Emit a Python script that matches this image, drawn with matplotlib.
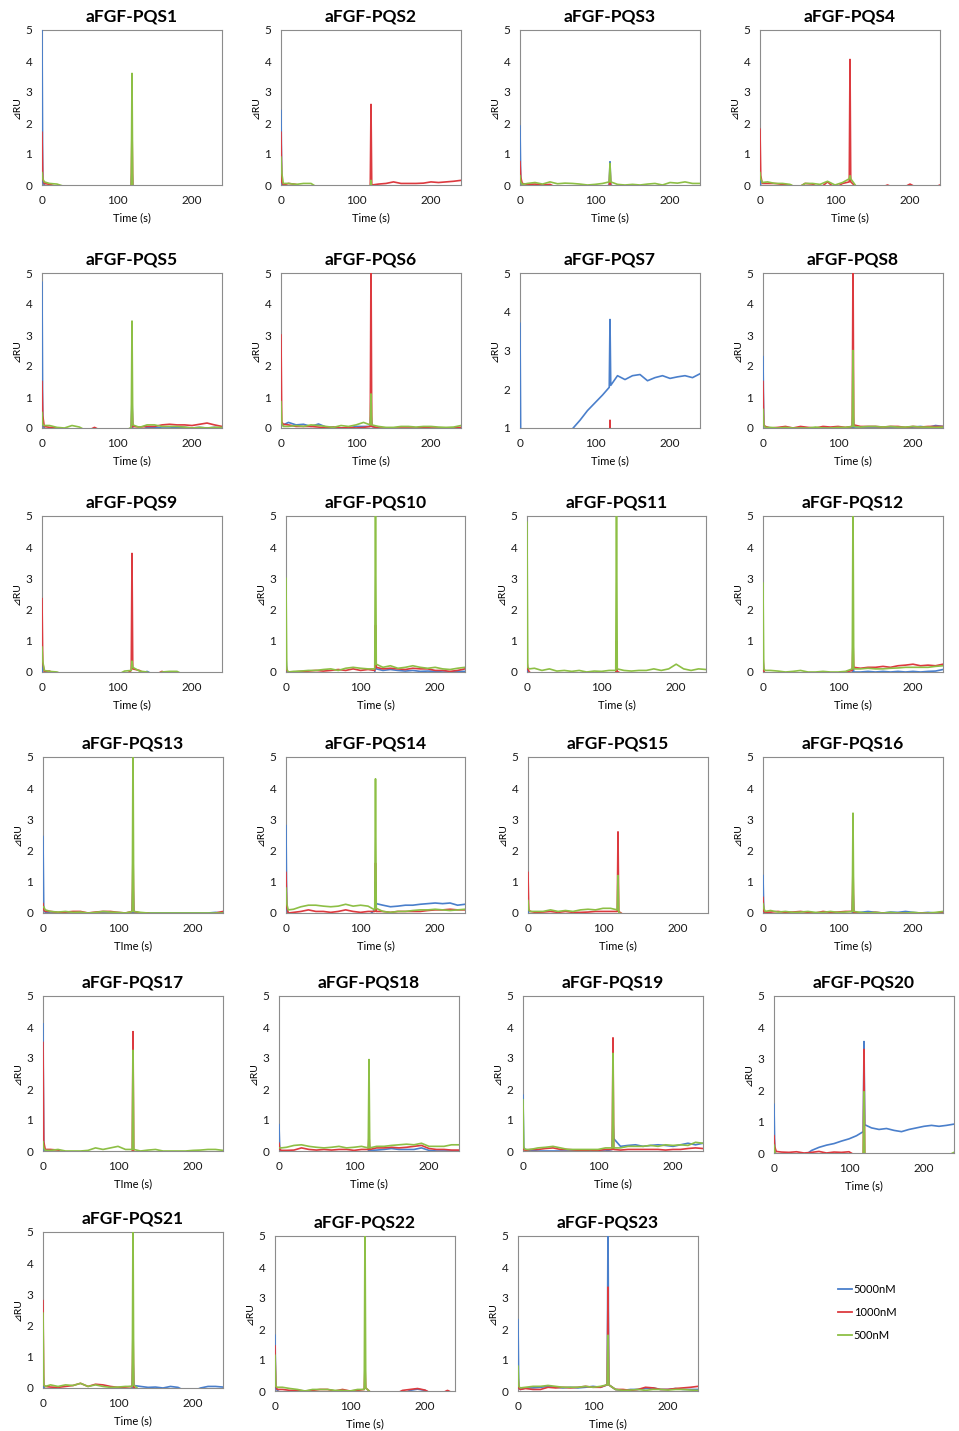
import matplotlib
matplotlib.use("Agg")
import matplotlib.pyplot as plt

# sample times (s) shared by every sensorgram
TIME = [0, 1, 3, 10, 20, 30, 40, 50, 60, 70, 80, 90, 100, 110, 119, 120, 121,
        130, 140, 150, 160, 170, 180, 190, 200, 210, 220, 230, 240]

CONCENTRATIONS = ["5000nM", "1000nM", "500nM"]

TITLES = ["aFGF-PQS%d" % i for i in range(1, 24)]
XLABELS = ["Time (s)"] * 12 + ["TIme (s)"] + ["Time (s)"] * 3 + ["TIme (s)"] + ["Time (s)"] * 6
YMIN = [0] * 6 + [1] + [0] * 16

# response (dRU) per panel: 5000 nM, 1000 nM, 500 nM
PQS1 = ([5.0, 0.1, 0.0, -0.1, -0.1, -0.1, -0.1, -0.1, -0.1, -0.1, -0.1, -0.1, -0.1, -0.1, -0.1, 0.5, -0.1, -0.1, -0.1, -0.1, -0.1, -0.1, -0.1, -0.1, -0.1, -0.1, -0.1, -0.1, -0.1],
        [1.7, 0.2, 0.05, 0.02, -0.05, -0.1, -0.1, -0.1, -0.1, -0.1, -0.1, -0.1, -0.1, -0.1, -0.1, 1.9, -0.1, -0.1, -0.1, -0.1, -0.1, -0.1, -0.1, -0.1, -0.1, -0.1, -0.1, -0.1, -0.1],
        [0.4, 0.2, 0.1, 0.05, 0.03, -0.05, -0.1, -0.1, -0.1, -0.1, -0.1, -0.1, -0.1, -0.1, -0.1, 3.6, -0.1, -0.1, -0.1, -0.1, -0.1, -0.1, -0.1, -0.1, -0.1, -0.1, -0.1, -0.1, -0.1])
PQS2 = ([2.4, 0.1, -0.1, -0.1, -0.1, -0.1, -0.1, -0.1, -0.1, -0.1, -0.1, -0.1, -0.1, -0.1, -0.1, -0.1, -0.1, -0.1, -0.1, -0.1, -0.1, -0.1, -0.1, -0.1, -0.1, -0.1, -0.1, -0.1, -0.1],
        [1.7, 0.1, 0.0, 0.05, 0.02, -0.1, -0.1, -0.1, -0.1, -0.1, -0.1, -0.1, -0.1, -0.1, -0.1, 2.6, 0.0, 0.03, 0.05, 0.1, 0.05, 0.05, 0.05, 0.06, 0.1, 0.08, 0.1, 0.12, 0.15],
        [0.9, 0.4, 0.05, 0.05, 0.02, 0.05, 0.05, -0.1, -0.1, -0.1, -0.1, -0.1, -0.1, -0.1, -0.1, 0.15, -0.1, -0.1, -0.1, -0.1, -0.1, -0.1, -0.1, -0.1, -0.1, -0.1, -0.1, -0.1, -0.1])
PQS3 = ([1.9, 0.1, 0.0, -0.1, -0.1, -0.1, -0.1, -0.1, -0.1, -0.1, -0.1, -0.1, -0.1, -0.1, 0.0, 0.75, 0.0, -0.1, -0.1, -0.1, -0.1, -0.1, -0.1, -0.1, -0.1, -0.1, -0.1, -0.1, -0.1],
        [0.75, 0.25, 0.05, 0.02, 0.03, 0.0, 0.02, -0.1, -0.1, -0.1, -0.1, -0.1, -0.1, -0.1, -0.1, 0.6, -0.1, -0.1, -0.1, -0.1, -0.1, -0.1, -0.1, -0.1, -0.1, -0.1, -0.1, -0.1, -0.1],
        [0.3, 0.1, 0.02, 0.05, 0.08, 0.03, 0.1, 0.04, 0.06, 0.05, 0.03, 0.0, 0.02, 0.05, 0.1, 0.7, 0.1, 0.02, 0.0, 0.02, 0.0, 0.03, 0.05, 0.0, 0.08, 0.06, 0.1, 0.05, 0.05])
PQS4 = ([0.2, 0.0, -0.1, -0.1, -0.1, -0.1, -0.1, -0.1, -0.1, -0.1, -0.1, -0.1, -0.1, -0.1, -0.1, -0.1, -0.1, -0.1, -0.1, -0.1, -0.1, -0.1, -0.1, -0.1, -0.1, -0.1, -0.1, -0.1, -0.1],
        [1.8, 0.3, 0.05, 0.05, 0.05, 0.02, 0.0, -0.1, 0.05, 0.03, -0.1, 0.1, -0.1, 0.05, 0.1, 4.05, 0.1, -0.1, -0.1, -0.1, -0.1, 0.0, -0.1, -0.1, 0.03, -0.1, -0.1, -0.1, 0.0],
        [0.4, 0.2, 0.08, 0.1, 0.05, 0.05, 0.02, -0.1, 0.05, 0.05, 0.02, 0.12, 0.0, 0.08, 0.2, 0.3, 0.2, -0.1, -0.1, -0.1, -0.1, -0.1, -0.1, -0.1, -0.1, -0.1, -0.1, -0.1, -0.1])
PQS5 = ([4.7, 0.1, 0.0, -0.1, -0.1, -0.1, -0.1, -0.1, -0.1, -0.1, -0.1, -0.1, -0.1, -0.1, -0.1, 1.0, -0.1, -0.1, 0.02, 0.02, 0.0, 0.0, 0.02, 0.02, 0.0, 0.02, 0.0, 0.02, 0.0],
        [1.5, 0.4, 0.05, 0.02, 0.0, -0.1, -0.1, -0.1, -0.1, 0.02, -0.1, -0.1, -0.1, -0.1, -0.1, 0.8, 0.05, 0.03, 0.05, 0.05, 0.1, 0.12, 0.1, 0.1, 0.08, 0.12, 0.16, 0.1, 0.05],
        [0.5, 0.1, 0.08, 0.08, 0.02, 0.0, 0.08, 0.03, -0.1, -0.1, -0.1, -0.1, -0.1, -0.1, 0.02, 3.45, 0.1, 0.02, 0.1, 0.1, 0.05, 0.05, 0.05, 0.03, 0.0, 0.02, 0.0, 0.02, 0.02])
PQS6 = ([0.2, 0.15, 0.1, 0.18, 0.1, 0.12, 0.05, 0.13, 0.03, 0.02, 0.0, 0.0, 0.05, 0.05, 0.05, 0.5, 0.05, 0.0, -0.1, -0.1, -0.1, -0.1, -0.1, -0.1, -0.1, -0.1, -0.1, -0.1, -0.1],
        [3.0, 0.2, 0.12, 0.1, 0.05, 0.05, 0.05, 0.03, 0.0, 0.03, 0.0, 0.02, 0.0, 0.02, 0.05, 5.5, 0.05, 0.0, 0.0, 0.0, 0.0, 0.0, 0.0, 0.02, 0.0, 0.0, 0.0, 0.0, 0.02],
        [0.85, 0.15, 0.05, 0.05, 0.08, 0.05, 0.1, 0.08, 0.05, 0.02, 0.08, 0.05, 0.1, 0.18, 0.1, 1.1, 0.1, 0.05, 0.02, 0.02, 0.05, 0.05, 0.03, 0.05, 0.05, 0.03, 0.02, 0.03, 0.08])
PQS7 = ([3.7, 0.5, 0.3, 0.3, 0.4, 0.5, 0.6, 0.7, 0.8, 0.98, 1.2, 1.45, 1.65, 1.85, 2.05, 3.8, 2.1, 2.35, 2.25, 2.35, 2.38, 2.22, 2.3, 2.35, 2.28, 2.32, 2.35, 2.3, 2.4],
        [0.5, 0.2, 0.0, 0.0, 0.0, 0.0, 0.0, 0.0, 0.0, 0.0, 0.0, 0.0, 0.0, 0.0, 0.0, 1.2, 0.0, 0.0, 0.0, 0.0, 0.0, 0.0, 0.0, 0.0, 0.0, 0.0, 0.0, 0.0, 0.0],
        [0.3, 0.1, 0.0, 0.0, 0.0, 0.0, 0.0, 0.0, 0.0, 0.0, 0.0, 0.0, 0.0, 0.0, 0.0, 0.8, 0.0, 0.0, 0.0, 0.0, 0.0, 0.0, 0.0, 0.0, 0.0, 0.0, 0.0, 0.0, 0.0])
PQS8 = ([2.3, 0.1, 0.02, 0.0, 0.0, 0.0, 0.0, 0.0, 0.0, 0.0, 0.0, 0.0, 0.0, 0.0, 0.0, 0.5, 0.0, 0.0, 0.0, 0.0, 0.0, 0.0, 0.0, 0.0, 0.03, 0.05, 0.02, 0.08, 0.05],
        [1.5, 0.1, 0.05, 0.0, 0.02, 0.05, 0.0, 0.05, 0.02, 0.0, 0.05, 0.03, 0.05, 0.02, 0.05, 5.5, 0.1, 0.05, 0.05, 0.05, 0.03, 0.05, 0.05, 0.02, 0.05, 0.03, 0.05, 0.05, 0.05],
        [0.6, 0.1, 0.02, 0.02, 0.0, 0.02, 0.0, 0.0, 0.0, 0.03, 0.0, 0.0, 0.02, 0.02, 0.05, 2.5, 0.05, 0.03, 0.05, 0.05, 0.03, 0.05, 0.03, 0.03, 0.05, 0.03, 0.03, 0.02, 0.03])
PQS9 = ([0.3, 0.0, -0.1, -0.1, -0.1, -0.1, -0.1, -0.1, -0.1, -0.1, -0.1, -0.1, -0.1, -0.1, -0.1, -0.1, -0.1, -0.1, 0.02, -0.1, -0.1, -0.1, -0.1, -0.1, -0.1, -0.1, -0.1, -0.1, -0.1],
        [2.35, 0.3, 0.02, 0.03, -0.1, -0.1, -0.1, -0.1, -0.1, -0.1, -0.1, -0.1, -0.1, -0.1, 0.05, 3.8, 0.1, 0.05, -0.1, -0.1, 0.02, -0.1, -0.1, -0.1, -0.1, -0.1, -0.1, -0.1, -0.1],
        [0.8, 0.35, 0.05, 0.02, 0.0, -0.1, -0.1, -0.1, -0.1, -0.1, -0.1, -0.1, -0.1, 0.03, 0.05, 0.35, 0.15, 0.03, 0.0, -0.1, 0.0, 0.02, 0.02, -0.1, -0.1, -0.1, -0.1, -0.1, -0.1])
PQS10 = ([0.5, 0.0, -0.1, -0.1, -0.1, -0.1, -0.1, -0.1, -0.1, -0.1, -0.1, -0.1, -0.1, -0.1, -0.1, 1.0, 0.1, 0.05, 0.08, 0.05, 0.03, 0.05, 0.02, 0.03, 0.02, 0.0, 0.0, 0.02, 0.02],
         [0.25, 0.05, 0.0, 0.0, 0.02, 0.03, 0.05, 0.03, 0.05, 0.08, 0.05, 0.1, 0.05, 0.08, 0.05, 1.5, 0.15, 0.1, 0.12, 0.1, 0.08, 0.12, 0.1, 0.1, 0.05, 0.05, 0.02, 0.05, 0.1],
         [3.0, 0.1, 0.0, 0.02, 0.03, 0.05, 0.05, 0.08, 0.1, 0.05, 0.12, 0.15, 0.12, 0.1, 0.1, 5.5, 0.25, 0.15, 0.2, 0.12, 0.15, 0.2, 0.15, 0.12, 0.15, 0.1, 0.08, 0.12, 0.15])
PQS11 = ([0.3, 0.0, -0.1, -0.1, -0.1, -0.1, -0.1, -0.1, -0.1, -0.1, -0.1, -0.1, -0.1, -0.1, -0.1, -0.1, -0.1, -0.1, -0.1, -0.1, -0.1, -0.1, -0.1, -0.1, -0.1, -0.1, -0.1, -0.1, -0.1],
         [0.35, 0.1, 0.0, -0.1, -0.1, -0.1, -0.1, -0.1, -0.1, -0.1, -0.1, -0.1, -0.1, -0.1, -0.1, 1.0, 0.02, -0.1, -0.1, -0.1, -0.1, -0.1, -0.1, -0.1, -0.1, -0.1, -0.1, -0.1, -0.1],
         [4.8, 0.15, 0.1, 0.12, 0.05, 0.1, 0.03, 0.05, 0.02, 0.05, 0.0, 0.03, 0.02, 0.05, 0.05, 5.5, 0.1, 0.05, 0.03, 0.05, 0.05, 0.1, 0.05, 0.1, 0.25, 0.1, 0.05, 0.1, 0.08])
PQS12 = ([0.4, 0.0, -0.1, -0.1, -0.1, -0.1, -0.1, -0.1, -0.1, -0.1, -0.1, -0.1, -0.1, -0.1, -0.1, 0.3, 0.0, 0.0, 0.02, 0.0, 0.02, 0.0, 0.02, 0.0, 0.02, 0.0, 0.02, 0.03, 0.08],
         [0.5, 0.05, -0.1, -0.1, -0.1, -0.1, -0.1, -0.1, -0.1, -0.1, -0.1, -0.1, -0.1, 0.0, 0.05, 1.0, 0.15, 0.12, 0.15, 0.15, 0.18, 0.15, 0.2, 0.22, 0.25, 0.2, 0.22, 0.2, 0.25],
         [2.85, 0.1, 0.05, 0.05, 0.03, 0.0, 0.02, 0.05, 0.0, 0.0, 0.02, 0.0, 0.0, 0.02, 0.1, 5.5, 0.1, 0.1, 0.12, 0.1, 0.1, 0.12, 0.13, 0.15, 0.15, 0.15, 0.15, 0.18, 0.2])
PQS13 = ([2.45, 0.1, 0.02, 0.0, 0.0, 0.0, 0.0, 0.0, 0.0, 0.0, 0.0, 0.0, 0.0, 0.0, 0.0, 1.0, 0.0, 0.0, 0.0, 0.0, 0.0, 0.0, 0.0, 0.0, 0.0, 0.0, 0.0, 0.02, 0.0],
         [0.3, 0.1, 0.05, 0.05, 0.02, 0.03, 0.05, 0.05, 0.0, 0.03, 0.05, 0.05, 0.02, 0.0, 0.05, 2.0, 0.05, 0.0, 0.0, -0.1, -0.1, -0.1, -0.1, -0.1, -0.1, -0.1, -0.1, 0.0, 0.05],
         [0.2, 0.2, 0.1, 0.05, 0.03, 0.05, 0.02, 0.03, 0.0, 0.02, 0.05, 0.03, 0.02, 0.0, 0.05, 5.5, 0.05, 0.02, 0.0, 0.0, 0.0, 0.0, 0.0, 0.0, 0.0, 0.0, 0.0, 0.0, 0.0])
PQS14 = ([2.8, 0.1, 0.0, -0.1, -0.1, -0.1, -0.1, -0.1, -0.1, -0.1, -0.1, -0.1, -0.1, -0.1, 0.1, 1.0, 0.3, 0.25, 0.2, 0.22, 0.25, 0.25, 0.28, 0.3, 0.32, 0.3, 0.32, 0.25, 0.28],
         [1.3, 0.2, 0.0, 0.02, 0.05, 0.1, 0.05, 0.05, 0.02, 0.05, 0.1, 0.05, 0.02, 0.05, 0.05, 1.6, 0.05, 0.05, 0.02, 0.05, 0.05, 0.05, 0.05, 0.08, 0.1, 0.1, 0.12, 0.1, 0.1],
         [0.8, 0.3, 0.1, 0.12, 0.2, 0.25, 0.25, 0.22, 0.2, 0.22, 0.28, 0.22, 0.25, 0.22, 0.1, 4.3, 0.15, 0.05, 0.02, 0.05, 0.05, 0.08, 0.1, 0.1, 0.12, 0.1, 0.08, 0.1, 0.12])
PQS15 = ([0.3, -0.1, -0.1, -0.1, -0.1, -0.1, -0.1, -0.1, -0.1, -0.1, -0.1, -0.1, -0.1, -0.1, -0.1, -0.1, -0.1, -0.1, -0.1, -0.1, -0.1, -0.1, -0.1, -0.1, -0.1, -0.1, -0.1, -0.1, -0.1],
         [1.3, 0.1, 0.05, 0.02, 0.03, 0.05, 0.02, 0.05, 0.02, 0.02, 0.03, 0.05, 0.05, 0.05, 0.05, 2.6, 0.05, -0.1, -0.1, -0.1, -0.1, -0.1, -0.1, -0.1, -0.1, -0.1, -0.1, -0.1, -0.1],
         [0.4, 0.1, 0.05, 0.05, 0.05, 0.1, 0.05, 0.08, 0.05, 0.1, 0.12, 0.1, 0.15, 0.15, 0.1, 1.2, 0.02, -0.1, -0.1, -0.1, -0.1, -0.1, -0.1, -0.1, -0.1, -0.1, -0.1, -0.1, -0.1])
PQS16 = ([1.2, 0.05, 0.0, 0.0, -0.1, -0.1, -0.1, -0.1, -0.1, -0.1, -0.1, -0.1, -0.1, -0.1, -0.1, 0.8, 0.0, 0.02, 0.05, 0.02, 0.0, 0.03, 0.02, 0.05, 0.02, 0.0, 0.02, 0.0, 0.03],
         [0.5, 0.05, 0.02, 0.03, 0.05, 0.02, 0.03, 0.05, 0.02, 0.0, 0.05, 0.02, 0.03, 0.05, 0.05, 1.5, 0.02, 0.0, 0.0, 0.02, 0.0, 0.0, 0.0, 0.0, 0.0, 0.0, 0.0, 0.0, 0.0],
         [0.3, 0.15, 0.05, 0.08, 0.03, 0.05, 0.02, 0.03, 0.05, 0.02, 0.02, 0.05, 0.02, 0.03, 0.05, 3.2, 0.05, 0.02, 0.0, 0.02, 0.0, 0.02, 0.0, 0.0, 0.02, 0.0, 0.0, 0.02, 0.05])
PQS17 = ([4.1, 0.1, -0.1, -0.1, -0.1, -0.1, -0.1, -0.1, -0.1, -0.1, -0.1, -0.1, -0.1, -0.1, -0.1, -0.1, -0.1, -0.1, -0.1, -0.1, -0.1, -0.1, -0.1, -0.1, -0.1, -0.1, -0.1, -0.1, -0.1],
         [3.5, 0.3, 0.05, 0.05, 0.03, -0.1, -0.1, -0.1, -0.1, -0.1, -0.1, -0.1, -0.1, -0.1, -0.1, 3.85, -0.1, -0.1, -0.1, -0.1, -0.1, -0.1, -0.1, -0.1, -0.1, -0.1, -0.1, -0.1, -0.1],
         [0.3, 0.1, 0.02, 0.02, 0.05, 0.0, 0.0, 0.0, 0.02, 0.1, 0.05, 0.1, 0.15, 0.05, 0.05, 3.25, 0.05, 0.0, 0.03, 0.05, 0.0, 0.0, 0.0, 0.0, 0.02, 0.03, 0.05, 0.05, 0.02])
PQS18 = ([0.85, 0.05, 0.0, -0.1, -0.1, -0.1, -0.1, -0.1, -0.1, -0.1, -0.1, -0.1, -0.1, -0.1, -0.1, 0.3, 0.02, 0.03, 0.05, 0.08, 0.05, 0.05, 0.05, 0.1, 0.02, 0.0, 0.0, 0.0, 0.0],
         [0.25, 0.05, 0.02, 0.02, 0.03, 0.1, 0.05, 0.03, 0.05, 0.03, 0.05, 0.05, 0.02, 0.05, 0.05, 0.5, 0.05, 0.1, 0.1, 0.12, 0.1, 0.12, 0.15, 0.18, 0.08, 0.05, 0.05, 0.03, 0.03],
         [0.1, 0.1, 0.1, 0.12, 0.18, 0.2, 0.15, 0.12, 0.1, 0.12, 0.15, 0.1, 0.12, 0.15, 0.1, 2.95, 0.1, 0.15, 0.15, 0.18, 0.2, 0.22, 0.2, 0.25, 0.15, 0.15, 0.15, 0.2, 0.2])
PQS19 = ([1.8, 0.1, 0.05, 0.02, 0.0, 0.0, 0.0, 0.0, 0.0, 0.0, 0.0, 0.0, 0.0, 0.0, 0.05, 1.0, 0.4, 0.15, 0.18, 0.2, 0.15, 0.18, 0.2, 0.18, 0.15, 0.2, 0.25, 0.2, 0.25],
         [0.2, 0.05, 0.02, 0.05, 0.05, 0.08, 0.1, 0.05, 0.05, 0.03, 0.02, 0.0, 0.02, 0.05, 0.05, 3.65, 0.05, 0.03, 0.05, 0.05, 0.05, 0.05, 0.05, 0.03, 0.05, 0.05, 0.08, 0.1, 0.08],
         [1.65, 0.1, 0.05, 0.05, 0.1, 0.12, 0.15, 0.1, 0.05, 0.05, 0.05, 0.05, 0.05, 0.1, 0.1, 3.15, 0.1, 0.1, 0.15, 0.15, 0.15, 0.18, 0.15, 0.2, 0.18, 0.2, 0.18, 0.28, 0.25])
PQS20 = ([1.55, 0.1, -0.1, -0.1, -0.1, -0.1, -0.1, 0.08, 0.18, 0.25, 0.3, 0.38, 0.45, 0.55, 0.68, 3.55, 0.9, 0.8, 0.75, 0.78, 0.72, 0.68, 0.75, 0.8, 0.85, 0.88, 0.85, 0.88, 0.92],
         [0.55, 0.2, 0.05, 0.03, 0.02, 0.04, 0.0, 0.02, 0.05, 0.0, 0.03, 0.02, 0.04, -0.1, -0.1, 3.3, -0.1, -0.1, -0.1, -0.1, -0.1, -0.1, -0.1, -0.1, -0.1, -0.1, -0.1, -0.1, -0.1],
         [0.25, 0.05, -0.1, -0.1, -0.1, -0.1, -0.1, -0.1, -0.1, -0.1, -0.1, -0.1, -0.1, -0.1, -0.1, 1.95, -0.1, -0.1, -0.1, -0.1, -0.1, -0.1, -0.1, -0.1, -0.1, -0.1, -0.1, -0.1, 0.02])
PQS21 = ([0.5, 0.05, -0.1, -0.1, -0.1, -0.1, -0.1, -0.1, -0.1, -0.1, -0.1, -0.1, -0.1, -0.1, 0.0, 1.0, 0.08, 0.05, 0.02, 0.03, 0.0, 0.05, 0.02, -0.1, -0.1, 0.0, 0.05, 0.05, 0.03],
         [2.8, 0.1, 0.05, 0.03, 0.02, 0.05, 0.08, 0.15, 0.05, 0.12, 0.1, 0.05, 0.02, 0.03, 0.05, 2.0, 0.02, -0.1, -0.1, -0.1, -0.1, -0.1, -0.1, -0.1, -0.1, -0.1, -0.1, -0.1, -0.1],
         [2.4, 0.1, 0.05, 0.1, 0.05, 0.1, 0.08, 0.15, 0.05, 0.1, 0.05, 0.02, 0.03, 0.05, 0.05, 5.5, 0.1, -0.1, -0.1, -0.1, -0.1, -0.1, -0.1, -0.1, -0.1, -0.1, -0.1, -0.1, -0.1])
PQS22 = ([1.8, 0.1, 0.02, -0.1, -0.1, -0.1, -0.1, -0.1, -0.1, -0.1, -0.1, -0.1, -0.1, -0.1, -0.1, -0.1, -0.1, -0.1, -0.1, -0.1, -0.1, -0.1, 0.02, 0.06, 0.02, -0.1, -0.1, -0.1, -0.1],
         [1.45, 0.15, 0.05, 0.05, 0.02, 0.02, 0.0, 0.02, 0.05, 0.05, 0.0, 0.05, 0.0, 0.02, 0.05, 0.8, 0.1, -0.1, -0.1, -0.1, -0.1, 0.02, 0.05, 0.08, 0.03, -0.1, -0.1, 0.02, -0.1],
         [1.15, 0.15, 0.12, 0.12, 0.08, 0.05, 0.0, 0.05, 0.05, 0.05, 0.02, 0.02, 0.0, 0.05, 0.05, 5.5, 0.1, -0.1, -0.1, -0.1, -0.1, -0.1, -0.1, -0.1, -0.1, -0.1, -0.1, -0.1, -0.1])
PQS23 = ([2.3, 0.1, 0.05, 0.1, 0.1, 0.12, 0.15, 0.12, 0.1, 0.12, 0.1, 0.12, 0.15, 0.12, 0.2, 5.5, 0.2, 0.05, 0.02, 0.05, 0.05, 0.08, 0.1, 0.05, 0.05, 0.08, 0.05, 0.05, 0.05],
         [0.5, 0.1, 0.05, 0.08, 0.05, 0.05, 0.12, 0.1, 0.12, 0.1, 0.12, 0.15, 0.12, 0.12, 0.2, 3.35, 0.2, 0.05, 0.05, 0.02, 0.05, 0.12, 0.1, 0.05, 0.05, 0.08, 0.1, 0.12, 0.15],
         [0.8, 0.15, 0.1, 0.12, 0.15, 0.15, 0.18, 0.15, 0.12, 0.12, 0.12, 0.15, 0.12, 0.15, 0.2, 1.8, 0.2, 0.05, 0.02, 0.03, 0.05, 0.02, 0.05, 0.05, 0.03, 0.05, 0.05, 0.03, 0.02])

SIGNALS = [PQS1, PQS2, PQS3, PQS4, PQS5, PQS6, PQS7, PQS8, PQS9, PQS10, PQS11, PQS12,
           PQS13, PQS14, PQS15, PQS16, PQS17, PQS18, PQS19, PQS20, PQS21, PQS22, PQS23]

COLORS = ["#4a7fcb", "#dc3a3f", "#8dbf45"]

# plot boxes in pixels: left, top, right, bottom
BOXES = [
    (42, 30, 222, 185), (281, 30, 461, 185), (520, 30, 700, 185), (760, 30, 940, 185),
    (42, 273, 222, 428), (281, 273, 461, 428), (520, 273, 700, 428), (763, 273, 943, 428),
    (42, 516, 222, 672), (286, 516, 465, 672), (527, 516, 706, 672), (763, 516, 943, 672),
    (43, 757, 223, 913), (286, 757, 465, 913), (528, 757, 708, 913), (763, 757, 943, 913),
    (43, 996, 223, 1151), (279, 996, 459, 1151), (523, 996, 703, 1151), (774, 996, 954, 1153),
    (43, 1232, 223, 1388), (275, 1236, 455, 1391), (518, 1236, 698, 1391),
]

W, H = 959, 1431
FONT = ["Lato", "DejaVu Sans"]
plt.rcParams["font.family"] = FONT

fig = plt.figure(figsize=(W / 100, H / 100), dpi=100)

for i, (l, t, r, b) in enumerate(BOXES):
    ax = fig.add_axes([l / W, 1 - b / H, (r - l) / W, (b - t) / H])
    for k in range(3):
        ax.plot(TIME, SIGNALS[i][k], color=COLORS[k], lw=1.2, zorder=3)
    ax.set_xlim(0, 240)
    ax.set_ylim(YMIN[i], 5)
    ax.set_xticks([0, 100, 200])
    ax.set_yticks(range(YMIN[i], 6))
    ax.tick_params(length=0, labelsize=8.5, colors="#1a1a1a")
    ax.tick_params(axis="x", pad=7)
    ax.tick_params(axis="y", pad=7)
    for s in ax.spines.values():
        s.set_color("#8c8c8c")
        s.set_linewidth(0.8)
    ax.set_title(TITLES[i], fontsize=12.5, fontweight="bold", pad=6)
    ax.set_xlabel(XLABELS[i], fontsize=8, labelpad=5)
    ax.set_ylabel("\u22bfRU", fontsize=7.5, labelpad=3)

# legend for the concentration series
leg_ax = fig.add_axes([832 / W, 1 - 1350 / H, 100 / W, 75 / H])
leg_ax.axis("off")
handles = [plt.Line2D([], [], color=c, lw=1.3) for c in COLORS]
leg_ax.legend(handles, CONCENTRATIONS, loc="center left", frameon=False, fontsize=8,
              handlelength=1.3, handletextpad=0.15, labelspacing=1.05, borderpad=0)

fig.savefig("out.png", dpi=100)
